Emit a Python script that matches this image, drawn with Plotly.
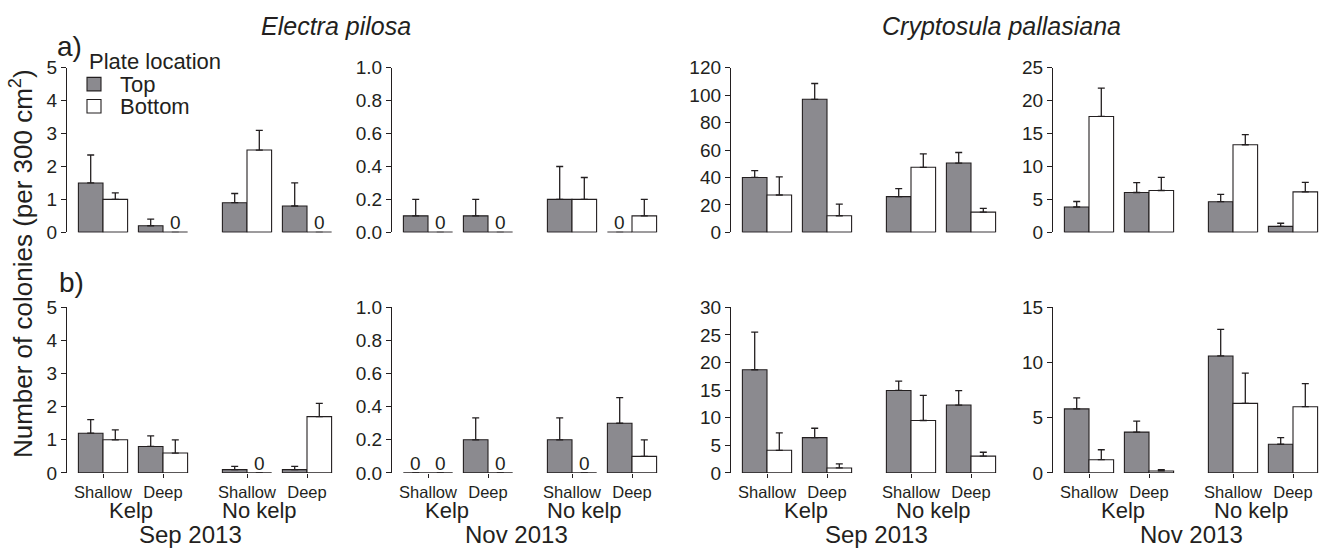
import plotly.graph_objects as go

W, H = 1323, 559
FONT = "Liberation Sans, Arial, Helvetica, sans-serif"
INK = "#231f20"
GREY = "#8b8a8f"

# ---- categories -----------------------------------------------------------
group_pos = [1.0, 2.0, 3.4, 4.4]          # Kelp-Shallow, Kelp-Deep, NoKelp-Shallow, NoKelp-Deep
depth_labels = ["Shallow", "Deep", "Shallow", "Deep"]
habitat_labels = ["Kelp", "No kelp"]
date_labels = ["Sep 2013", "Nov 2013", "Sep 2013", "Nov 2013"]
species_labels = ["Electra pilosa", "Cryptosula pallasiana"]
plate_labels = ["Top", "Bottom"]
plate_colors = [GREY, "white"]

# ---- a) mean colonies per 300 cm2 with SE ---------------------------------
a_ep_sep_top = [1.5, 0.2, 0.9, 0.8]
a_ep_sep_top_se = [0.85, 0.2, 0.28, 0.7]
a_ep_sep_bot = [1.0, 0.0, 2.5, 0.0]
a_ep_sep_bot_se = [0.2, 0.0, 0.6, 0.0]

a_ep_nov_top = [0.1, 0.1, 0.2, 0.0]
a_ep_nov_top_se = [0.1, 0.1, 0.2, 0.0]
a_ep_nov_bot = [0.0, 0.0, 0.2, 0.1]
a_ep_nov_bot_se = [0.0, 0.0, 0.133, 0.1]

a_cp_sep_top = [40.0, 97.0, 26.0, 50.5]
a_cp_sep_top_se = [5.0, 11.5, 5.8, 7.7]
a_cp_sep_bot = [27.2, 12.1, 47.4, 14.7]
a_cp_sep_bot_se = [13.3, 8.4, 9.8, 2.8]

a_cp_nov_top = [3.85, 6.05, 4.65, 0.9]
a_cp_nov_top_se = [0.83, 1.5, 1.12, 0.48]
a_cp_nov_bot = [17.6, 6.35, 13.3, 6.15]
a_cp_nov_bot_se = [4.3, 2.0, 1.55, 1.45]

# ---- b) -------------------------------------------------------------------
b_ep_sep_top = [1.2, 0.8, 0.1, 0.1]
b_ep_sep_top_se = [0.41, 0.32, 0.1, 0.1]
b_ep_sep_bot = [1.0, 0.6, 0.0, 1.7]
b_ep_sep_bot_se = [0.3, 0.4, 0.0, 0.4]

b_ep_nov_top = [0.0, 0.2, 0.2, 0.3]
b_ep_nov_top_se = [0.0, 0.133, 0.133, 0.155]
b_ep_nov_bot = [0.0, 0.0, 0.0, 0.1]
b_ep_nov_bot_se = [0.0, 0.0, 0.0, 0.1]

b_cp_sep_top = [18.7, 6.4, 14.95, 12.3]
b_cp_sep_top_se = [6.8, 1.7, 1.7, 2.6]
b_cp_sep_bot = [4.1, 0.9, 9.5, 3.05]
b_cp_sep_bot_se = [3.15, 0.75, 4.55, 0.7]

b_cp_nov_top = [5.8, 3.7, 10.6, 2.6]
b_cp_nov_top_se = [1.0, 1.0, 2.4, 0.6]
b_cp_nov_bot = [1.2, 0.18, 6.3, 6.0]
b_cp_nov_bot_se = [0.9, 0.12, 2.75, 2.1]

# y scales per column: (max, step, tick format)
col_scales_a = [(5, 1, "d"), (1, 0.2, ".1f"), (120, 20, "d"), (25, 5, "d")]
col_scales_b = [(5, 1, "d"), (1, 0.2, ".1f"), (30, 5, "d"), (15, 5, "d")]

panels = [
    (a_ep_sep_top, a_ep_sep_top_se, a_ep_sep_bot, a_ep_sep_bot_se),
    (a_ep_nov_top, a_ep_nov_top_se, a_ep_nov_bot, a_ep_nov_bot_se),
    (a_cp_sep_top, a_cp_sep_top_se, a_cp_sep_bot, a_cp_sep_bot_se),
    (a_cp_nov_top, a_cp_nov_top_se, a_cp_nov_bot, a_cp_nov_bot_se),
    (b_ep_sep_top, b_ep_sep_top_se, b_ep_sep_bot, b_ep_sep_bot_se),
    (b_ep_nov_top, b_ep_nov_top_se, b_ep_nov_bot, b_ep_nov_bot_se),
    (b_cp_sep_top, b_cp_sep_top_se, b_cp_sep_bot, b_cp_sep_bot_se),
    (b_cp_nov_top, b_cp_nov_top_se, b_cp_nov_bot, b_cp_nov_bot_se),
]
scales = col_scales_a + col_scales_b

# ---- layout geometry (pixels) ---------------------------------------------
col_left_px = [67, 392, 731, 1053]
col_width_px = 267
row_px = [(60, 231), (309, 481)]
x_range = [0.4, 4.85]
BARGAP = 0.18
half_slot = (1 - BARGAP) / 4          # offset of each bar centre from its group centre


def px_x(p):
    return p / W


def px_y(p):
    return 1 - p / H


def text(xp, yp, s, size, **kw):
    d = dict(x=px_x(xp), y=px_y(yp), xref="paper", yref="paper", text=s,
             showarrow=False, xanchor="center", yanchor="middle",
             font=dict(size=size, color=INK, family=FONT))
    d.update(kw)
    return d


fig = go.Figure()
layout = {}
shapes = []
annotations = []

for k, (top, top_se, bot, bot_se) in enumerate(panels):
    row, col = divmod(k, 4)
    n = k + 1
    xa = "x" if n == 1 else f"x{n}"
    ya = "y" if n == 1 else f"y{n}"

    for vals, se, color, name in [(top, top_se, plate_colors[0], plate_labels[0]),
                                  (bot, bot_se, plate_colors[1], plate_labels[1])]:
        fig.add_trace(go.Bar(
            x=group_pos, y=vals, name=name, xaxis=xa, yaxis=ya,
            marker=dict(color=color, line=dict(color=INK, width=1.1)),
            error_y=dict(type="data", array=se, arrayminus=[0] * len(se),
                         symmetric=False, color=INK, thickness=1.3, width=3.5),
            showlegend=False,
        ))
        # zero-valued bars get a "0" above their slot
        offset = -half_slot if name == plate_labels[0] else half_slot
        for p, v in zip(group_pos, vals):
            if v == 0:
                annotations.append(dict(
                    x=p + offset, y=0, xref=xa, yref=ya, text="0",
                    showarrow=False, yanchor="bottom", yshift=-3,
                    font=dict(size=19, color=INK, family=FONT)))

    # baseline under each pair of bars
    for p in group_pos:
        shapes.append(dict(type="line", xref=xa, yref=ya,
                           x0=p - 2 * half_slot, x1=p + 2 * half_slot, y0=0, y1=0,
                           line=dict(color=INK, width=1.1)))

    ymax, step, fmt = scales[k]
    x0 = col_left_px[col]
    top_px, bot_px = row_px[row]
    xkey = "xaxis" if n == 1 else f"xaxis{n}"
    ykey = "yaxis" if n == 1 else f"yaxis{n}"
    xaxis = dict(domain=[px_x(x0), px_x(x0 + col_width_px)], range=x_range,
                 anchor=ya, showgrid=False, zeroline=False, showline=False,
                 fixedrange=True)
    if row == 1:
        xaxis.update(tickmode="array", tickvals=group_pos, ticktext=depth_labels,
                     ticks="outside", ticklen=4, tickwidth=1.1, tickcolor=INK,
                     tickfont=dict(size=16.5, color=INK, family=FONT))
    else:
        xaxis.update(showticklabels=False, ticks="")
    layout[xkey] = xaxis
    layout[ykey] = dict(domain=[px_y(bot_px), px_y(top_px)], range=[0, ymax],
                        anchor=xa, dtick=step, tick0=0, tickformat=fmt,
                        showgrid=False, zeroline=False, showline=True,
                        linecolor=INK, linewidth=1.3, ticks="outside",
                        ticklen=5, tickwidth=1.3, tickcolor=INK,
                        tickfont=dict(size=19, color=INK, family=FONT),
                        fixedrange=True)

# plate-location key
annotations.append(text(87, 53, "Plate location", 22, xanchor="left"))
for i, (label, color) in enumerate(zip(plate_labels, plate_colors)):
    yc = 77 + 23 * i
    shapes.append(dict(type="rect", xref="paper", yref="paper",
                       x0=px_x(87), x1=px_x(101), y0=px_y(yc + 7), y1=px_y(yc - 7),
                       fillcolor=color, line=dict(color=INK, width=1.1)))
    annotations.append(text(118, yc, label, 22, xanchor="left"))

# habitat and date labels under the b) row
kelp_px = [131, 447, 806, 1123]
nokelp_px = [259, 584, 934, 1251]
date_px = [190, 516, 876, 1191]
for c in range(4):
    annotations.append(text(kelp_px[c], 520, habitat_labels[0], 22))
    annotations.append(text(nokelp_px[c], 520, habitat_labels[1], 22))
    annotations.append(text(date_px[c], 545, date_labels[c], 24))

# species titles
for xp, label in zip([336, 1001], species_labels):
    annotations.append(text(xp, 17, f"<i>{label}</i>", 25))

# panel letters
annotations.append(text(69, 38, "a)", 28))
annotations.append(text(71, 283, "b)", 28))

# shared y title
annotations.append(text(21, 264, "Number of colonies (per 300 cm<sup>2</sup>)", 26,
                        textangle=-90))

fig.update_layout(
    width=W, height=H,
    margin=dict(l=0, r=0, t=0, b=0),
    paper_bgcolor="white", plot_bgcolor="white",
    barmode="group", bargap=BARGAP, bargroupgap=0,
    font=dict(family=FONT, color=INK),
    showlegend=False,
    shapes=shapes,
    annotations=annotations,
    **layout,
)

fig.write_html("out.html")
